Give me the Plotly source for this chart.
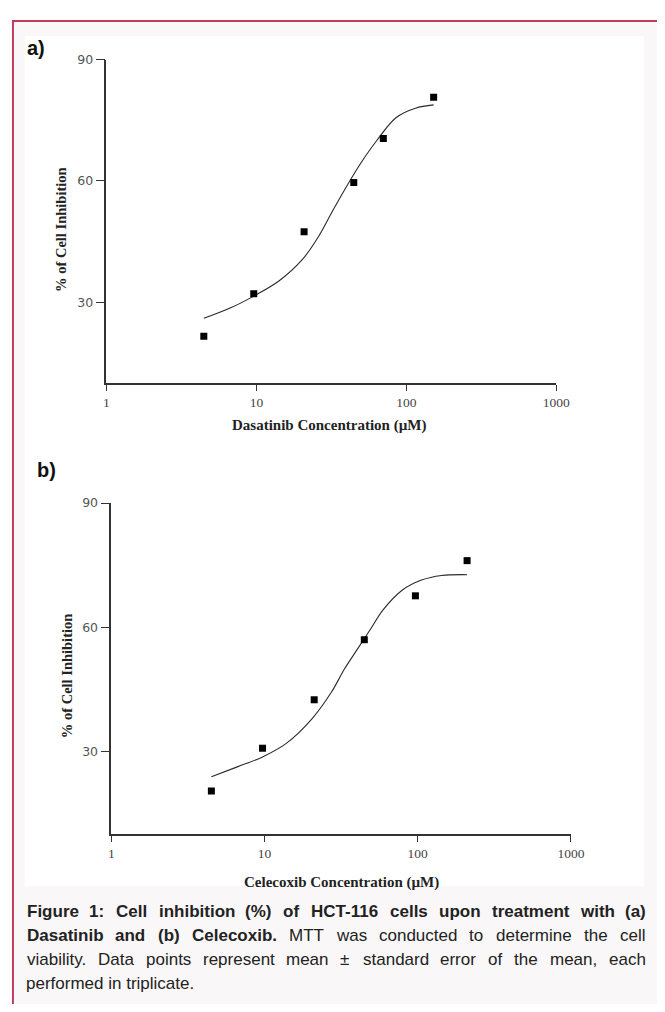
import plotly.graph_objects as go

# page body has an 8px margin; size the figure so the page fits the 665x1012 window
OFF = 8
W, H = 665 - 2 * OFF, 1012 - 2 * OFF

# ---- data ----
dasatinib_conc = [4.46, 9.6, 20.8, 44.6, 70.2, 152]
dasatinib_inhib = [21.6, 32.1, 47.4, 59.6, 70.5, 80.7]
dasatinib_fit_conc = [4.46, 6.74, 9.6, 14.2, 20.2, 25.9, 31.6, 38.6, 49.5, 63.5, 85.6, 115, 152]
dasatinib_fit_inhib = [26.0, 28.6, 31.5, 35.3, 40.5, 46.2, 52.0, 57.7, 64.3, 70.0, 75.7, 78.0, 78.8]

celecoxib_conc = [4.50, 9.71, 21.1, 44.8, 96.6, 210]
celecoxib_inhib = [20.5, 30.8, 42.5, 57.0, 67.6, 76.1]
celecoxib_fit_conc = [4.50, 6.64, 9.71, 13.8, 20.4, 27.3, 33.1, 40.2, 48.9, 59.4, 79.5, 106, 143, 210]
celecoxib_fit_inhib = [23.9, 26.3, 28.7, 31.9, 37.9, 44.3, 49.8, 54.6, 59.4, 64.2, 69.0, 71.4, 72.5, 72.7]

x_tickvals = [1, 10, 100, 1000]
x_ticktext = ["1", "10", "100", "1000"]
y_tickvals = [30, 60, 90]
y_ticktext = ["30", "60", "90"]

# caption lines: list of (text, bold) words; the last line is not justified
caption_lines = [
    [(w, True) for w in "Figure 1: Cell inhibition (%) of HCT-116 cells upon treatment with (a)".split()],
    [(w, True) for w in "Dasatinib and (b) Celecoxib.".split()]
    + [(w, False) for w in "MTT was conducted to determine the cell".split()],
    [(w, False) for w in "viability. Data points represent mean ± standard error of the mean, each".split()],
]
caption_last = "performed in triplicate."

# Arial (Liberation Sans) advance widths, 1/1000 em
REG = {' ': 278, '!': 278, '%': 889, '(': 333, ')': 333, ',': 278, '-': 333, '.': 278, ':': 278,
       '±': 584, 'A': 667, 'B': 667, 'C': 722, 'D': 722, 'E': 667, 'F': 611, 'G': 778, 'H': 722,
       'I': 278, 'J': 500, 'K': 667, 'L': 556, 'M': 833, 'N': 722, 'O': 778, 'P': 667, 'Q': 778,
       'R': 722, 'S': 667, 'T': 611, 'U': 722, 'V': 667, 'W': 944, 'X': 667, 'Y': 667, 'Z': 611,
       'a': 556, 'b': 556, 'c': 500, 'd': 556, 'e': 556, 'f': 278, 'g': 556, 'h': 556, 'i': 222,
       'j': 222, 'k': 500, 'l': 222, 'm': 833, 'n': 556, 'o': 556, 'p': 556, 'q': 556, 'r': 333,
       's': 500, 't': 278, 'u': 556, 'v': 500, 'w': 722, 'x': 500, 'y': 500, 'z': 500}
BOLD = {' ': 278, '!': 333, '%': 889, '(': 333, ')': 333, ',': 278, '-': 333, '.': 278, ':': 333,
        '±': 584, 'A': 722, 'B': 722, 'C': 722, 'D': 722, 'E': 667, 'F': 611, 'G': 778, 'H': 722,
        'I': 278, 'J': 556, 'K': 722, 'L': 611, 'M': 833, 'N': 722, 'O': 778, 'P': 667, 'Q': 778,
        'R': 722, 'S': 667, 'T': 611, 'U': 722, 'V': 667, 'W': 944, 'X': 667, 'Y': 667, 'Z': 611,
        'a': 556, 'b': 611, 'c': 556, 'd': 611, 'e': 556, 'f': 333, 'g': 611, 'h': 611, 'i': 278,
        'j': 278, 'k': 556, 'l': 278, 'm': 889, 'n': 611, 'o': 611, 'p': 611, 'q': 611, 'r': 389,
        's': 556, 't': 333, 'u': 611, 'v': 556, 'w': 778, 'x': 556, 'y': 556, 'z': 500}


def text_w(s, bold, size):
    tbl = BOLD if bold else REG
    return sum(tbl.get(c, 556) for c in s) * size / 1000.0


def px(x):
    return (x - OFF) / W


def py(y):
    return 1 - (y - OFF) / H


fig = go.Figure()

# panel a
fig.add_trace(go.Scatter(x=dasatinib_fit_conc, y=dasatinib_fit_inhib, mode="lines",
                         line=dict(color="#2a2a2a", width=1.1, shape="spline"),
                         xaxis="x", yaxis="y", showlegend=False))
fig.add_trace(go.Scatter(x=dasatinib_conc, y=dasatinib_inhib, mode="markers",
                         marker=dict(symbol="square", size=7, color="black"),
                         xaxis="x", yaxis="y", showlegend=False))
# panel b
fig.add_trace(go.Scatter(x=celecoxib_fit_conc, y=celecoxib_fit_inhib, mode="lines",
                         line=dict(color="#2a2a2a", width=1.1, shape="spline"),
                         xaxis="x2", yaxis="y2", showlegend=False))
fig.add_trace(go.Scatter(x=celecoxib_conc, y=celecoxib_inhib, mode="markers",
                         marker=dict(symbol="square", size=7, color="black"),
                         xaxis="x2", yaxis="y2", showlegend=False))

xaxis_common = dict(type="log", range=[0, 3], showgrid=False, zeroline=False,
                    showline=True, linecolor="#333", linewidth=1.5,
                    ticks="outside", ticklen=6, tickwidth=1.2, tickcolor="#333",
                    tickvals=x_tickvals, ticktext=x_ticktext,
                    tickfont=dict(family="Liberation Serif", size=13.5, color="#444"))
yaxis_common = dict(range=[10, 90], showgrid=False, zeroline=False,
                    showline=True, linecolor="#333", linewidth=1.5,
                    ticks="outside", ticklen=9, tickwidth=1.2, tickcolor="#333",
                    tickvals=y_tickvals, ticktext=y_ticktext,
                    tickfont=dict(family="DejaVu Sans", size=12.5, color="#555"))

fig.update_layout(
    width=W, height=H,
    margin=dict(l=0, r=0, t=0, b=0),
    paper_bgcolor="white", plot_bgcolor="rgba(0,0,0,0)",
    xaxis=dict(domain=[px(106), px(568)], anchor="y", **xaxis_common),
    yaxis=dict(domain=[py(378), py(52)], anchor="x", **yaxis_common),
    xaxis2=dict(domain=[px(111), px(583)], anchor="y2", **xaxis_common),
    yaxis2=dict(domain=[py(833), py(499)], anchor="x2", **yaxis_common),
)

shapes = [
    dict(type="rect", xref="paper", yref="paper", x0=px(10), x1=px(700), y0=py(1050), y1=py(13),
         fillcolor="#f9f7f7", line=dict(color="#c23a60", width=2), layer="below"),
    dict(type="rect", xref="paper", yref="paper", x0=px(22), x1=px(658), y0=py(885), y1=py(28),
         fillcolor="white", line=dict(width=0), layer="below"),
]
fig.update_layout(shapes=shapes)

ann = []
ann.append(dict(text="<b>a)</b>", x=px(22), y=py(40), xanchor="left", yanchor="middle",
                font=dict(family="Liberation Sans", size=20, color="#111")))
ann.append(dict(text="<b>b)</b>", x=px(33), y=py(466), xanchor="left", yanchor="middle",
                font=dict(family="Liberation Sans", size=20, color="#111")))
# axis titles
ann.append(dict(text="<b>% of Cell Inhibition</b>", x=px(60), y=py(224), textangle=-90,
                xanchor="center", yanchor="middle",
                font=dict(family="Liberation Serif", size=14.5, color="#222")))
ann.append(dict(text="<b>% of Cell Inhibition</b>", x=px(65), y=py(674), textangle=-90,
                xanchor="center", yanchor="middle",
                font=dict(family="Liberation Serif", size=14.5, color="#222")))
ann.append(dict(text="<b>Dasatinib Concentration (µM)</b>", x=px(335), y=py(421),
                xanchor="center", yanchor="middle",
                font=dict(family="Liberation Serif", size=15, color="#222")))
ann.append(dict(text="<b>Celecoxib Concentration (µM)</b>", x=px(347), y=py(882),
                xanchor="center", yanchor="middle",
                font=dict(family="Liberation Serif", size=15, color="#222")))

# caption, justified between x=22 and x=657
CAP_SIZE = 17
CAP_L, CAP_R = 22, 657
cap_y = [911, 935, 959, 983]
for words, yy in zip(caption_lines, cap_y[:3]):
    widths = [text_w(w, b, CAP_SIZE) for w, b in words]
    gap = (CAP_R - CAP_L - sum(widths)) / (len(words) - 1)
    x = CAP_L
    for (w, b), wd in zip(words, widths):
        t = f"<b>{w}</b>" if b else w
        ann.append(dict(text=t, x=px(x), y=py(yy), xanchor="left", yanchor="middle",
                        font=dict(family="Liberation Sans", size=CAP_SIZE, color="#222")))
        x += wd + gap
ann.append(dict(text=caption_last, x=px(CAP_L - 1), y=py(cap_y[3]), xanchor="left", yanchor="middle",
                font=dict(family="Liberation Sans", size=CAP_SIZE, color="#222")))

for a in ann:
    a.update(xref="paper", yref="paper", showarrow=False)
fig.update_layout(annotations=ann)

fig.write_html("out.html")
